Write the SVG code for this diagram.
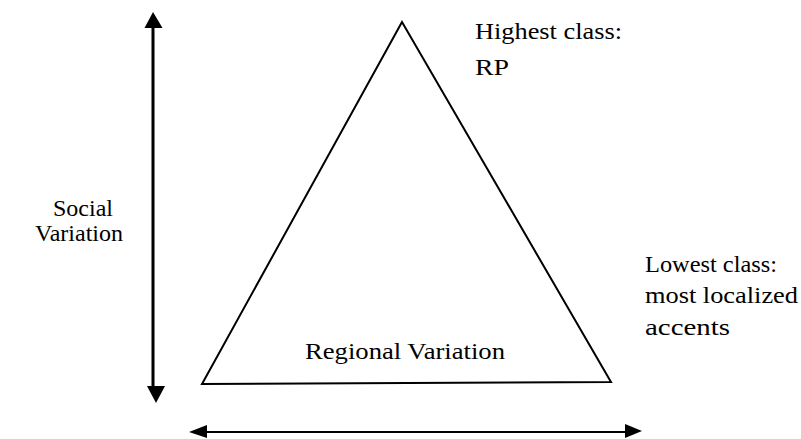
<svg xmlns="http://www.w3.org/2000/svg" width="801" height="439" viewBox="0 0 801 439">
  <defs>
    <style>
      text { font-family: "Liberation Serif", "Times New Roman", serif; fill: #000; }
      .edge { stroke: #000; fill: none; }
      .head { fill: #000; stroke: none; }
    </style>
  </defs>
  <rect width="801" height="439" fill="#fff"/>
  <g id="triangle">
    <polygon points="402,22 202,384 611,382" fill="none" stroke="#000" stroke-width="2"/>
    <text x="305" y="359" font-size="24" textLength="200" lengthAdjust="spacingAndGlyphs">Regional Variation</text>
  </g>
  <g id="highest-label">
    <text x="475" y="39" font-size="24" textLength="147" lengthAdjust="spacingAndGlyphs">Highest class:</text>
    <text x="475" y="75" font-size="24" textLength="34" lengthAdjust="spacingAndGlyphs">RP</text>
  </g>
  <g id="lowest-label">
    <text x="645" y="272" font-size="24" textLength="132" lengthAdjust="spacingAndGlyphs">Lowest class:</text>
    <text x="645" y="303" font-size="24" textLength="153" lengthAdjust="spacingAndGlyphs">most localized</text>
    <text x="645" y="335" font-size="24" textLength="85" lengthAdjust="spacingAndGlyphs">accents</text>
  </g>
  <g id="social-label">
    <text x="83" y="216" font-size="24" text-anchor="middle">Social</text>
    <text x="79" y="241" font-size="24" text-anchor="middle">Variation</text>
  </g>
  <g id="connectors">
    <line class="edge" x1="153" y1="26" x2="153" y2="388" stroke-width="3"/>
    <polygon class="head" points="153,12 144.5,28 162.5,28"/>
    <polygon class="head" points="156,403 147,386 165,386"/>
    <line class="edge" x1="205" y1="432" x2="628" y2="432" stroke-width="2"/>
    <polygon class="head" points="189,432 207,425 207,438"/>
    <polygon class="head" points="642,431 625,424 625,438"/>
  </g>
</svg>
